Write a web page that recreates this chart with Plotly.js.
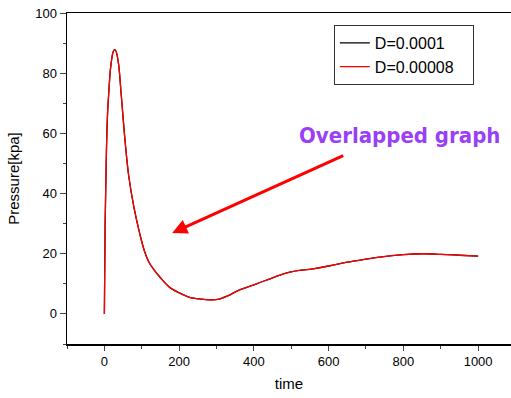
<!DOCTYPE html>
<html>
<head>
<meta charset="utf-8">
<script src="https://cdn.plot.ly/plotly-3.0.1.min.js"></script>
<style>html,body{margin:0;padding:0;background:#fff;}#chart{width:511px;height:398px;}</style>
</head>
<body>
<div id="chart"></div>
<script>
var time = [0,2,5,8,12,16,20,24,28,32,38,45,55,65,79,94,107,120,132,150,174,200,228,260,281,304,330,362,407,450,496,558,603,650,700,737,800,853,900,950,1000];
var pressureA = [0,30,51,65,74,81,85,87.3,87.8,87,83,73,58,46,35.5,27,21,17,14.8,12,8.9,7,5.5,4.9,4.7,4.8,6,8,10,12,13.9,15,16,17.2,18.2,18.9,19.7,20,19.8,19.5,19.2];
var pressureB = pressureA.slice();
var seriesNames = ["D=0.0001", "D=0.00008"];

var font = "Liberation Sans, Arial, sans-serif";
var pad = "\u00a0\u00a0\u00a0\u200b";
var traces = [
  {x: time, y: pressureA, name: seriesNames[0] + pad, mode: "lines", line: {color: "#000000", width: 1.3, shape: "spline"}},
  {x: time, y: pressureB, name: seriesNames[1] + pad, mode: "lines", line: {color: "#ff0000", width: 1.3, shape: "spline"}}
];
var layout = {
  width: 511, height: 398,
  margin: {l: 67, r: 0, t: 13, b: 54},
  paper_bgcolor: "#fff", plot_bgcolor: "#fff",
  font: {family: font, size: 13, color: "#000"},
  showlegend: true,
  legend: {x: 0.601, y: 0.964, xanchor: "left", yanchor: "top", bordercolor: "#333", borderwidth: 1,
           bgcolor: "#fff", font: {family: font, size: 16, color: "#000"}, itemwidth: 30, tracegroupgap: 0},
  xaxis: {range: [-100, 1088], tickvals: [0,200,400,600,800,1000], ticks: "outside", ticklen: 5, tickwidth: 1,
          minor: {dtick: 100, tick0: 0, ticks: "outside", ticklen: 3, tickwidth: 1, showgrid: false},
          showline: true, linecolor: "#000", linewidth: 1.5, mirror: true, showgrid: false, zeroline: false,
          title: {text: "time", font: {family: font, size: 15}, standoff: 10}, tickfont: {size: 13}},
  yaxis: {range: [-10, 100], tickvals: [0,20,40,60,80,100], ticks: "outside", ticklen: 6, tickwidth: 1,
          minor: {dtick: 10, tick0: 0, ticks: "outside", ticklen: 3, tickwidth: 1, showgrid: false},
          showline: true, linecolor: "#000", linewidth: 1.5, showgrid: false, zeroline: false,
          title: {text: "Pressure[kpa]", font: {family: font, size: 15}, standoff: 12}, tickfont: {size: 13}},
  annotations: [
    {x: 181.5, y: 26.9, xref: "x", yref: "y", ax: 643, ay: 52.8, axref: "x", ayref: "y", text: "",
     showarrow: true, arrowhead: 2, arrowsize: 1, arrowwidth: 3, arrowcolor: "#ff0000"},
    {x: 0.748, y: 0.631, xref: "paper", yref: "paper", xanchor: "center", yanchor: "middle",
     text: "<b>Overlapped graph</b>", showarrow: false,
     font: {family: "Liberation Sans Narrow, DejaVu Sans Condensed, sans-serif", size: 22, color: "#9a3ff5"}}
  ]
};
Plotly.newPlot("chart", traces, layout, {displayModeBar: false, staticPlot: true});
</script>
</body>
</html>
